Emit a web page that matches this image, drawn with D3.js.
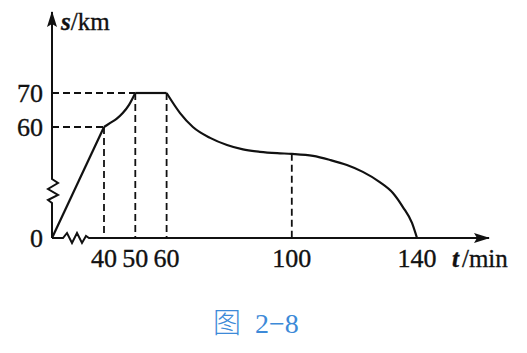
<!DOCTYPE html>
<html>
<head>
<meta charset="utf-8">
<script src="https://cdn.jsdelivr.net/npm/d3@7.9.0/dist/d3.min.js"></script>
<style>
  body { margin: 0; background: #fff; }
  svg { display: block; }
  text { font-family: "Liberation Serif", "DejaVu Serif", serif; fill: #111; stroke: #111; stroke-width: 0.35; }
</style>
</head>
<body>
<svg id="chart" width="527" height="353"></svg>
<script>
// Data: time t (min) vs distance s (km)
const riseLine = [[0, 0], [40, 60]];
const riseCurve = [[40, 60], [42, 61.2], [44, 62.4], [46, 64.1], [48, 66.5], [50, 70]];
const plateau = [[50, 70], [60, 70]];
const fallCurve = [
  [60, 70], [64.3, 64.1], [68.4, 60], [73.9, 56.8], [79.3, 54.7],
  [84.4, 53.4], [89.8, 52.7], [95.3, 52.3], [100, 52.1], [106.8, 51.5],
  [112.2, 50.3], [117.6, 48.8], [122.7, 46.8], [128.1, 43.8], [132.3, 40.6],
  [135.5, 28.8], [138.4, 14], [140, 0]
];
const xTicks = [40, 50, 60, 100, 140];
const yTicks = [60, 70];
const guideX = [[40, 60], [50, 70], [60, 70], [100, 52.1]];
const guideY = [[60, 40], [70, 50]];

const svg = d3.select('#chart');

// broken axes: piecewise scales
const x = d3.scaleLinear().domain([0, 40, 140]).range([52, 104, 417]);
const y = d3.scaleLinear().domain([0, 40, 70]).range([238, 195, 93]);

const x0 = x(0), y0 = y(0);

// arrowheads
const defs = svg.append('defs');
defs.append('marker')
  .attr('id', 'arrow')
  .attr('viewBox', '0 0 16 10')
  .attr('refX', 15).attr('refY', 5)
  .attr('markerWidth', 16).attr('markerHeight', 10)
  .attr('markerUnits', 'userSpaceOnUse')
  .attr('orient', 'auto')
  .append('path')
  .attr('d', 'M0,0 L16,5 L0,10 L3,5 Z')
  .attr('fill', '#111');

// y axis with break
svg.append('path')
  .attr('d', `M${x0},${y0} L${x0},203 L${x0 - 4},200 L${x0 + 6},195 L${x0 - 4},189 L${x0 + 6},183 L${x0},179 L${x0},12`)
  .attr('fill', 'none').attr('stroke', '#111').attr('stroke-width', 2)
  .attr('marker-end', 'url(#arrow)');

// x axis with break
svg.append('path')
  .attr('d', `M${x0},${y0} L63,${y0} L67,233 L72,243 L77,233 L82,243 L86,236 L89,${y0} L489,${y0}`)
  .attr('fill', 'none').attr('stroke', '#111').attr('stroke-width', 2)
  .attr('marker-end', 'url(#arrow)');

// dashed guide lines
const guides = svg.append('g')
  .attr('stroke', '#111').attr('stroke-width', 1.8).attr('stroke-dasharray', '7,4').attr('fill', 'none');

guides.selectAll('line.v')
  .data(guideX)
  .join('line')
  .attr('x1', d => x(d[0])).attr('x2', d => x(d[0]))
  .attr('y1', d => y(d[1])).attr('y2', y0);

guides.selectAll('line.h')
  .data(guideY)
  .join('line')
  .attr('x1', x0).attr('x2', d => x(d[1]))
  .attr('y1', d => y(d[0])).attr('y2', d => y(d[0]));

// curve
const linear = d3.line().x(d => x(d[0])).y(d => y(d[1]));
const smooth = d3.line().x(d => x(d[0])).y(d => y(d[1])).curve(d3.curveMonotoneX);

const curve = svg.append('g').attr('fill', 'none').attr('stroke', '#111').attr('stroke-width', 2.2)
  .attr('stroke-linejoin', 'round');
curve.append('path').attr('d', linear(riseLine));
curve.append('path').attr('d', smooth(riseCurve));
curve.append('path').attr('d', linear(plateau));
curve.append('path').attr('d', smooth(fallCurve));

// tick labels
svg.selectAll('text.xt')
  .data(xTicks)
  .join('text')
  .attr('x', d => x(d)).attr('y', 267)
  .attr('text-anchor', 'middle')
  .attr('font-size', 26)
  .text(d => d);

svg.selectAll('text.yt')
  .data(yTicks)
  .join('text')
  .attr('x', 43).attr('y', d => y(d) + 9)
  .attr('text-anchor', 'end')
  .attr('font-size', 26)
  .text(d => d);

svg.append('text').attr('x', 43).attr('y', y0 + 9)
  .attr('text-anchor', 'end').attr('font-size', 26).text('0');

// axis titles
const sLab = svg.append('text').attr('x', 61).attr('y', 30).attr('font-size', 25);
sLab.append('tspan').attr('font-style', 'italic').attr('font-weight', 'bold').text('s');
sLab.append('tspan').text('/km');

const tLab = svg.append('text').attr('x', 452).attr('y', 267).attr('font-size', 25);
tLab.append('tspan').attr('font-style', 'italic').attr('font-weight', 'bold').text('t');
tLab.append('tspan').attr('dx', 3).text('/min');

// caption
const cap = svg.append('text')
  .attr('x', 213).attr('y', 333)
  .attr('font-size', 28)
  .style('fill', '#3d8ad8').style('stroke', 'none');
cap.append('tspan').style('font-family', '"Noto Sans CJK SC", sans-serif').style('font-weight', 300).text('图');
cap.append('tspan').attr('dx', 14).text('2−8');
</script>
</body>
</html>
